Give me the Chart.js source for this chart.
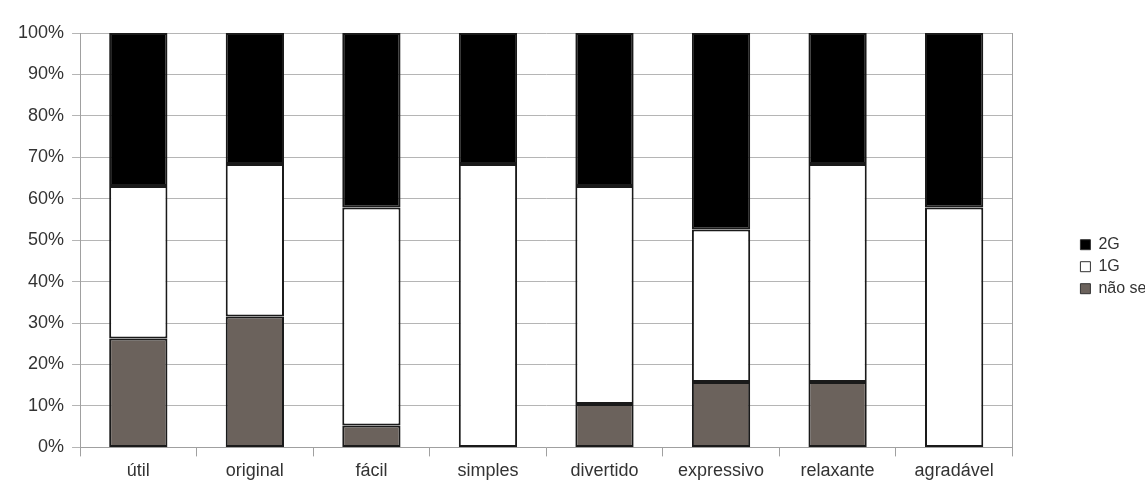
<!DOCTYPE html>
<html>
<head>
<meta charset="utf-8">
<script src="https://cdn.jsdelivr.net/npm/chart.js@4/dist/chart.umd.min.js"></script>
<style>
    html, body { margin: 0; padding: 0; background: #fff; overflow: hidden; }
    #wrap { width: 1160px; height: 491px; }
</style>
</head>
<body>
<div id="wrap"><canvas id="chart" width="1160" height="491"></canvas></div>
<script>
// categorias e valores (% das respostas)
const categorias = ['útil', 'original', 'fácil', 'simples', 'divertido', 'expressivo', 'relaxante', 'agradável'];
const naoSei = [26.3, 31.6, 5.3, 0, 10.5, 15.8, 15.8, 0];
const g1 = [36.8, 36.8, 52.6, 68.4, 52.6, 36.8, 52.6, 57.9];
const g2 = [36.9, 31.6, 42.1, 31.6, 36.9, 47.4, 31.6, 42.1];

const fonte = { family: 'Liberation Sans, Arial, sans-serif', size: 18 };

function serie(label, data, cor) {
    return {
        label: label,
        data: data,
        backgroundColor: cor,
        borderColor: '#1a1a1a',
        borderWidth: 2,
        borderSkipped: false,
        categoryPercentage: 1,
        barPercentage: 0.5
    };
}

const ctx = document.getElementById('chart');
new Chart(ctx, {
    type: 'bar',
    data: {
        labels: categorias,
        datasets: [
            serie('não sei', naoSei, '#6b625c'),
            serie('1G', g1, '#ffffff'),
            serie('2G', g2, '#000000')
        ]
    },
    options: {
        responsive: false,
        animation: false,
        layout: { padding: { top: 33, left: 10, right: 0, bottom: 5 } },
        plugins: {
            tooltip: { enabled: false },
            legend: {
                position: 'right',
                reverse: true,
                // título vazio só para descer um pouco a legenda
                title: { display: true, text: ' ', font: { size: 12 }, padding: 0 },
                labels: {
                    boxWidth: 10,
                    boxHeight: 10,
                    padding: 6,
                    color: '#333',
                    font: { family: fonte.family, size: 16 },
                    generateLabels: chart => Chart.defaults.plugins.legend.labels.generateLabels(chart).map(l => {
                        l.lineWidth = 1;
                        l.strokeStyle = '#333';
                        return l;
                    })
                }
            }
        },
        scales: {
            x: {
                stacked: true,
                grid: { offset: true, drawOnChartArea: false, color: '#a0a0a0', tickLength: 9 },
                border: { color: '#a0a0a0' },
                ticks: { color: '#333', font: fonte, padding: 4 }
            },
            y: {
                stacked: true,
                min: 0,
                max: 100,
                ticks: { stepSize: 10, color: '#333', font: fonte, padding: 8, callback: v => v + '%' },
                grid: { color: '#b5b5b5', tickLength: 8 },
                border: { color: '#a0a0a0' }
            },
            // eixo vazio à direita: só a borda do gráfico e o espaço até a legenda
            y2: {
                position: 'right',
                min: 0,
                max: 100,
                grid: { display: false },
                ticks: { display: false },
                border: { color: '#a0a0a0' },
                afterFit: scale => { scale.width = 62; }
            }
        }
    }
});
</script>
</body>
</html>
